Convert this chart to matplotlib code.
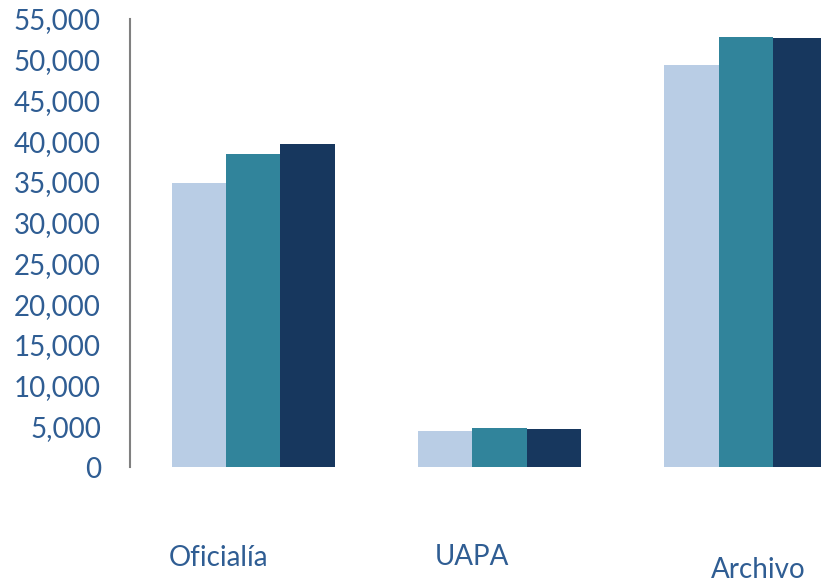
import numpy as np
import matplotlib.pyplot as plt
from matplotlib.ticker import FuncFormatter

# data
categories = ['Oficialía', 'UAPA', 'Archivo']
serie_1 = [34900, 4450, 49400]
serie_2 = [38400, 4830, 52800]
serie_3 = [39700, 4700, 52700]

colors = ['#B9CDE5', '#31849B', '#17375E']
text_color = '#2F5D93'

plt.rcParams['font.family'] = ['Lato', 'DejaVu Sans']

fig = plt.figure(figsize=(8.21, 5.84), dpi=100)
ax = fig.add_axes([130 / 821, 117 / 584, 691 / 821, 448 / 584])

x = np.arange(len(categories))
w = 0.221
for i, vals in enumerate([serie_1, serie_2, serie_3]):
    ax.bar(x + (i - 1) * w, vals, w, color=colors[i], zorder=2)

ax.set_xlim(-0.5, 2.304)
ax.set_ylim(0, 55000)
ax.set_yticks(np.arange(0, 55001, 5000))
ax.yaxis.set_major_formatter(FuncFormatter(lambda v, p: f'{int(v):,}'))
ax.tick_params(axis='y', length=0, pad=21, labelsize=20, labelcolor=text_color)
ax.set_xticks([])

for s in ['top', 'right', 'bottom']:
    ax.spines[s].set_visible(False)
ax.spines['left'].set_color('#808080')
ax.spines['left'].set_linewidth(1.5)

# category labels sit at slightly different heights in the original
label_pos = [(218, 558), (472, 557), (758, 570)]
for name, (px, py) in zip(categories, label_pos):
    fig.text(px / 821, 1 - py / 584, name, ha='center', va='center',
             fontsize=20, color=text_color)

fig.savefig('out.png', dpi=100)
